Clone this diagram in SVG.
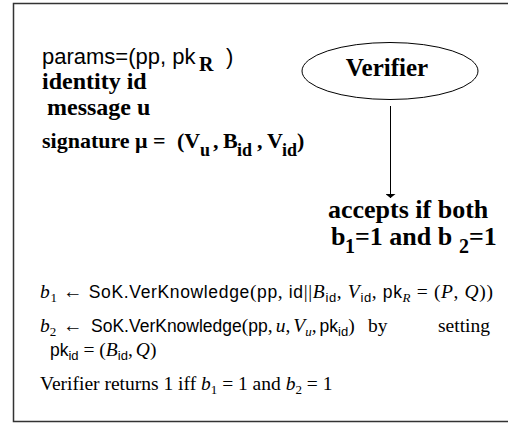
<svg xmlns="http://www.w3.org/2000/svg" width="508" height="423" viewBox="0 0 508 423">
<style>
.sans{font-family:"Liberation Sans",Arial,sans-serif;fill:#000}
.bs{font-family:"Liberation Serif","Times New Roman",serif;font-weight:bold;fill:#000}
.rm{font-family:"Liberation Serif","Times New Roman",serif;font-size:19.5px;fill:#000}
.it{font-style:italic}
.ss{font-family:"Liberation Sans",Arial,sans-serif;font-size:17.5px}
.sub{font-size:13px}
</style>
<defs>
<marker id="ah" viewBox="0 0 4 10" refX="4" refY="5" markerWidth="4" markerHeight="10" orient="auto" markerUnits="userSpaceOnUse">
<path d="M0,0 L4,5 L0,10 Z" fill="#000"/>
</marker>
</defs>
<g id="frame"><path d="M508,3.5 H13.5 V421.5 H508" fill="none" stroke="#333" stroke-width="1.5"/></g>
<g id="inputs">
<text class="sans" x="42" y="64" font-size="22">params=(pp, pk<tspan class="bs" x="199" y="71" font-size="20">R</tspan><tspan x="220" y="64"> )</tspan></text>
<text class="bs" x="42" y="89" font-size="24">identity id</text>
<text class="bs" x="47" y="115" font-size="24">message u</text>
<text class="bs" font-size="22" y="148"><tspan x="42">signature</tspan><tspan x="135">μ</tspan><tspan x="153">=</tspan><tspan x="177">(V</tspan><tspan x="200" y="156" font-size="18">u</tspan><tspan x="213" y="148">,</tspan><tspan x="223">B</tspan><tspan x="237" y="156" font-size="18">id</tspan><tspan x="257" y="148">,</tspan><tspan x="267">V</tspan><tspan x="282" y="156" font-size="18">id</tspan><tspan x="297" y="148">)</tspan></text>
</g>
<g id="verifier">
<ellipse cx="390" cy="71" rx="88" ry="28.5" fill="none" stroke="#000" stroke-width="1"/>
<text class="bs" x="387" y="76" font-size="25" text-anchor="middle">Verifier</text>
</g>
<g id="connectors">
<line x1="390.5" y1="106" x2="390.5" y2="198" stroke="#000" stroke-width="1" marker-end="url(#ah)"/>
</g>
<g id="result">
<text class="bs" x="328" y="218" font-size="26">accepts if both</text>
<text class="bs" font-size="26" y="245"><tspan x="331">b</tspan><tspan x="345" y="253" font-size="20">1</tspan><tspan x="355" y="245">=1 and b</tspan><tspan x="459" y="253" font-size="20">2</tspan><tspan x="469" y="245">=1</tspan></text>
</g>
<g id="conditions">
<text class="rm" x="40" y="298" textLength="453" lengthAdjust="spacing"><tspan class="it">b</tspan><tspan class="sub" dy="4">1</tspan><tspan dy="-4"> ← </tspan><tspan class="ss">SoK.VerKnowledge</tspan>(<tspan class="ss">pp</tspan>, <tspan class="ss">id</tspan>||<tspan class="it">B</tspan><tspan class="ss sub" dy="4">id</tspan><tspan dy="-4">, </tspan><tspan class="it">V</tspan><tspan class="ss sub" dy="4">id</tspan><tspan dy="-4">, </tspan><tspan class="ss">pk</tspan><tspan class="it sub" dy="4">R</tspan><tspan dy="-4"> = (</tspan><tspan class="it">P</tspan>, <tspan class="it">Q</tspan>))</text>
<text class="rm" y="332"><tspan class="it" x="40">b</tspan><tspan class="sub" dy="4">2</tspan><tspan dy="-4" x="63">←</tspan><tspan class="ss" x="91">SoK.VerKnowledge</tspan>(<tspan class="ss">pp</tspan>,<tspan class="it" dx="3">u</tspan>,<tspan class="it" dx="3">V</tspan><tspan class="it sub" dy="4">u</tspan><tspan dy="-4">,</tspan><tspan class="ss" dx="3">pk</tspan><tspan class="ss sub" dy="4">id</tspan><tspan dy="-4">)</tspan><tspan x="368">by</tspan><tspan x="438">setting</tspan></text>
<text class="rm" x="50" y="356"><tspan class="ss">pk</tspan><tspan class="ss sub" dy="4">id</tspan><tspan dy="-4"> = (</tspan><tspan class="it">B</tspan><tspan class="ss sub" dy="4">id</tspan><tspan dy="-4">,</tspan><tspan class="it" dx="3">Q</tspan>)</text>
<text class="rm" x="40" y="390">Verifier returns 1 iff <tspan class="it">b</tspan><tspan class="sub" dy="4">1</tspan><tspan dy="-4"> = 1 and </tspan><tspan class="it">b</tspan><tspan class="sub" dy="4">2</tspan><tspan dy="-4"> = 1</tspan></text>
</g>
</svg>
